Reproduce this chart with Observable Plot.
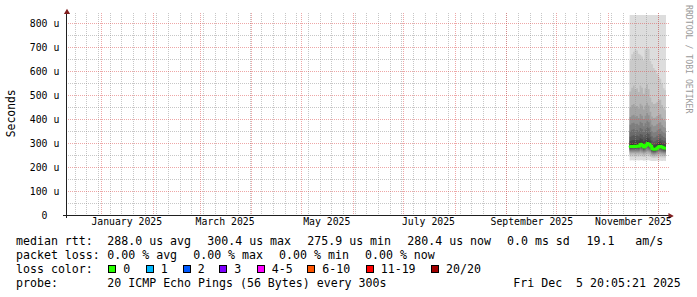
<!DOCTYPE html>
<html><head><meta charset="utf-8">
<script src="https://cdn.jsdelivr.net/npm/d3@7"></script>
<script src="https://cdn.jsdelivr.net/npm/@observablehq/plot@0.6"></script>
<style>
html,body{margin:0;padding:0;background:#fff;}
#chart{width:697px;height:297px;overflow:hidden;}
svg{display:block;}
</style></head><body><div id="chart"></div>
<script>
// ---- time frame (last 360 days) ----
const startTime = "2024-12-10T20:05:21Z";
const endTime = "2025-12-05T20:05:21Z";
const yTop = 833.3; // microseconds at top of plot area

// ---- daily smoke data (microseconds) ----
const days = ["2025-11-14","2025-11-15","2025-11-16","2025-11-17","2025-11-18","2025-11-19","2025-11-20","2025-11-21","2025-11-22","2025-11-23","2025-11-24","2025-11-25","2025-11-26","2025-11-27","2025-11-28","2025-11-29","2025-11-30","2025-12-01","2025-12-02","2025-12-03","2025-12-04","2025-12-05"];
const median = [287, 288, 289, 287, 290, 289, 297, 293, 285, 292, 300, 297, 290, 278, 276, 277, 282, 287, 288, 284, 281, 280];
const p1  = [227, 228, 227, 227, 228, 227, 228, 228, 226, 227, 228, 228, 226, 225, 225, 225, 226, 226, 226, 225, 226, 225];
const p2  = [243, 244, 244, 243, 244, 243, 245, 244, 242, 243, 246, 245, 242, 239, 238, 239, 240, 241, 241, 240, 240, 239];
const p3  = [251, 252, 252, 251, 252, 251, 253, 252, 249, 251, 254, 253, 250, 245, 244, 245, 247, 248, 249, 247, 246, 246];
const p4  = [257, 258, 258, 257, 258, 257, 260, 258, 255, 258, 261, 260, 256, 250, 249, 250, 252, 254, 255, 253, 252, 251];
const p5  = [262, 263, 263, 262, 263, 262, 266, 264, 260, 263, 267, 266, 262, 254, 253, 254, 257, 260, 260, 258, 257, 256];
const p6  = [267, 268, 268, 267, 268, 267, 272, 269, 265, 268, 273, 271, 267, 258, 257, 258, 262, 265, 265, 263, 261, 260];
const p7  = [271, 272, 272, 271, 273, 272, 277, 274, 269, 273, 279, 277, 272, 262, 260, 261, 266, 269, 270, 267, 265, 264];
const p8  = [275, 276, 277, 275, 277, 276, 282, 279, 273, 278, 284, 282, 276, 266, 264, 265, 270, 274, 274, 272, 269, 268];
const p9  = [279, 280, 281, 279, 282, 281, 287, 284, 277, 283, 290, 287, 281, 270, 268, 269, 274, 278, 279, 276, 273, 272];
const p10 = [283, 284, 285, 283, 286, 285, 292, 289, 281, 288, 295, 292, 286, 274, 272, 273, 278, 283, 284, 280, 277, 276];
const p11 = [294, 296, 297, 295, 298, 297, 305, 301, 293, 300, 308, 305, 297, 285, 282, 284, 289, 294, 295, 291, 288, 286];
const p12 = [308, 311, 312, 310, 312, 311, 320, 316, 307, 315, 323, 320, 310, 296, 292, 294, 299, 305, 306, 301, 298, 295];
const p13 = [326, 330, 332, 329, 331, 328, 338, 334, 324, 333, 342, 338, 326, 310, 305, 307, 312, 318, 320, 313, 309, 306];
const p14 = [350, 355, 357, 352, 354, 350, 362, 357, 346, 356, 366, 361, 346, 328, 322, 324, 330, 336, 338, 330, 325, 321];
const p15 = [376, 382, 384, 378, 380, 374, 389, 383, 370, 382, 393, 386, 368, 350, 344, 346, 352, 358, 360, 350, 344, 340];
const p16 = [408, 415, 418, 410, 412, 404, 421, 414, 400, 414, 425, 416, 395, 376, 370, 372, 378, 384, 386, 374, 367, 362];
const p17 = [448, 458, 462, 452, 454, 444, 464, 456, 440, 456, 468, 456, 430, 410, 404, 406, 412, 418, 420, 405, 396, 390];
const p18 = [515, 530, 540, 525, 528, 512, 540, 530, 505, 528, 545, 525, 490, 470, 462, 465, 470, 478, 480, 458, 445, 436];
const p19 = [645, 670, 680, 690, 685, 672, 668, 660, 645, 690, 700, 692, 642, 628, 612, 604, 590, 576, 568, 548, 528, 520];
const p20 = [1180, 1320, 1250, 1410, 1290, 1220, 1360, 1480, 1310, 1520, 1440, 1270, 1190, 1150, 1230, 1170, 1120, 1090, 1160, 1080, 1110, 1060];
const bandColors = ["#dddddd","#cacaca","#b7b7b7","#a4a4a4","#919191","#7e7e7e","#6b6b6b","#585858","#454545","#323232"];

// ---- axes ----
const yTicks = [0, 100, 200, 300, 400, 500, 600, 700, 800];
const yTickLabels = ["0", "100", "200", "300", "400", "500", "600", "700", "800"];
const yMinor = [50, 150, 250, 350, 450, 550, 650, 750];
const monthLabels = ["January 2025", "March 2025", "May 2025", "July 2025", "September 2025", "November 2025"];
const monthLabelDates = ["2025-01-16", "2025-03-16", "2025-05-16", "2025-07-16", "2025-09-16", "2025-11-16"];

// ---- legend ----
const rttStats = ["288.0 us avg", "300.4 us max", "275.9 us min", "280.4 us now", "0.0 ms sd", "19.1   am/s"];
const lossStats = ["0.00 % avg", "0.00 % max", "0.00 % min", "0.00 % now"];
const lossLabels = ["0", "1", "2", "3", "4-5", "6-10", "11-19", "20/20"];
const lossColors = ["#26ff00", "#00b8ff", "#0059ff", "#7e00ff", "#ff00ff", "#ff5500", "#ff0000", "#a10000"];
const probeText = "20 ICMP Echo Pings (56 Bytes) every 300s";
const dateText = "Fri Dec  5 20:05:21 2025";

// ---- build ----
const P = [p1,p2,p3,p4,p5,p6,p7,p8,p9,p10,p11,p12,p13,p14,p15,p16,p17,p18,p19,p20];
const rows = days.map((d, i) => ({t: new Date(d + "T00:00:00Z"), p: P.map(a => a[i]), med: median[i]}));
const last = rows[rows.length - 1];
rows.push({t: new Date(endTime), p: last.p, med: last.med});
const startDate = new Date(startTime), endDate = new Date(endTime);
const weeks = d3.utcMonday.range(startDate, endDate);
const months = d3.utcMonth.range(startDate, endDate);

const gridMinor = "rgba(143,143,143,0.5)";
const gridMajor = "rgba(222,79,79,0.5)";
const axisColor = "#1f1f1f";
const arrowColor = "#801f1f";

const bands = bandColors.map((c, i) => Plot.areaY(rows, {
  x: "t", y1: r => r.p[i], y2: r => r.p[19 - i], curve: "step-after", fill: c, clip: true
}));

const chart = Plot.plot({
  width: 697, height: 297,
  marginLeft: 66, marginRight: 31, marginTop: 15, marginBottom: 82,
  x: {type: "utc", domain: [startDate, endDate], axis: null},
  y: {domain: [0, yTop], axis: null},
  style: {background: "#fff", fontFamily: "DejaVu Sans Mono", overflow: "visible", color: "#000"},
  marks: [
    ...bands,
    Plot.ruleX(weeks, {stroke: gridMinor, strokeDasharray: "1,1", insetTop: -2, shapeRendering: "crispEdges"}),
    Plot.ruleY(yMinor, {stroke: gridMinor, strokeDasharray: "1,1", insetRight: -3, shapeRendering: "crispEdges"}),
    Plot.ruleX(months, {stroke: gridMajor, strokeDasharray: "1,1", insetTop: -2, shapeRendering: "crispEdges"}),
    Plot.ruleY(yTicks.slice(1), {stroke: gridMajor, strokeDasharray: "1,1", insetRight: -3, shapeRendering: "crispEdges"}),
    Plot.line(rows, {x: "t", y: "med", curve: "step-after", stroke: lossColors[0], strokeWidth: 3, clip: true}),
    Plot.ruleY([0], {stroke: axisColor, insetLeft: -3, insetRight: -3, shapeRendering: "crispEdges"}),
    Plot.ruleX([startDate], {stroke: axisColor, insetTop: -2, insetBottom: -3, shapeRendering: "crispEdges"}),
    Plot.dot([endDate], {x: d => d, y: () => 0, symbol: "triangle", r: 2.3, rotate: 90, fill: arrowColor, dx: 3.7, dy: 0.5}),
    Plot.dot([startDate], {x: d => d, y: () => yTop, symbol: "triangle", r: 2.3, fill: arrowColor, dx: 0.5, dy: -3.2}),
    Plot.text(yTicks, {y: d => d, text: (d, i) => yTickLabels[i], frameAnchor: "left", dx: -19, dy: 0.5, textAnchor: "end", fontSize: 9.8, fill: "#000"}),
    Plot.text(yTicks.slice(1), {y: d => d, text: () => "u", frameAnchor: "left", dx: -13, dy: 0.5, textAnchor: "start", fontSize: 9.8, fill: "#000"}),
    Plot.text(monthLabelDates, {x: d => new Date(d + "T00:00:00Z"), text: (d, i) => monthLabels[i], frameAnchor: "bottom", dy: 9.7, fontSize: 9.8, fill: "#000"})
  ]
});
document.getElementById("chart").appendChild(chart);

// ---- decorations: axis title, watermark, legend ----
const svg = d3.select(chart);
const deco = svg.append("g").attr("font-family", "DejaVu Sans Mono").attr("fill", "#000");
deco.append("text").attr("transform", "translate(14.5,113.3) rotate(-90)")
  .attr("text-anchor", "middle").attr("font-size", 11.4).text("Seconds");
deco.append("text").attr("transform", "translate(686,5) rotate(90)")
  .attr("text-anchor", "start").attr("font-size", 8.2).attr("fill", "#9a9a9a").text("RRDTOOL / TOBI OETIKER");

const lg = svg.append("g").attr("font-family", "DejaVu Sans Mono").attr("font-size", 11.6)
  .attr("fill", "#000").attr("text-anchor", "start");
const put = (x, y, s) => lg.append("text").attr("x", x).attr("y", y).attr("text-anchor", "start")
  .style("white-space", "pre").text(s);
const base = [245.3, 259.3, 273.3, 287.3];
put(16, base[0], "median rtt:");
[107.3, 207.3, 307.3, 407.3, 507.0, 586.5].forEach((x, i) => put(x, base[0], rttStats[i]));
put(16, base[1], "packet loss:");
[107.3, 193.2, 279.1, 365.0].forEach((x, i) => put(x, base[1], lossStats[i]));
put(16, base[2], "loss color:");
[108.3, 145.7, 182.7, 219.3, 256.7, 307.3, 365.7, 431].forEach((x, i) => {
  lg.append("rect").attr("x", Math.round(x) + 0.5).attr("y", 265.5).attr("width", 7).attr("height", 7)
    .attr("fill", lossColors[i]).attr("stroke", "#000").attr("stroke-width", 1);
  put(x + 15, base[2], lossLabels[i]);
});
put(16, base[3], "probe:");
put(107.3, base[3], probeText);
put(513.3, base[3], dateText);
</script></body></html>
